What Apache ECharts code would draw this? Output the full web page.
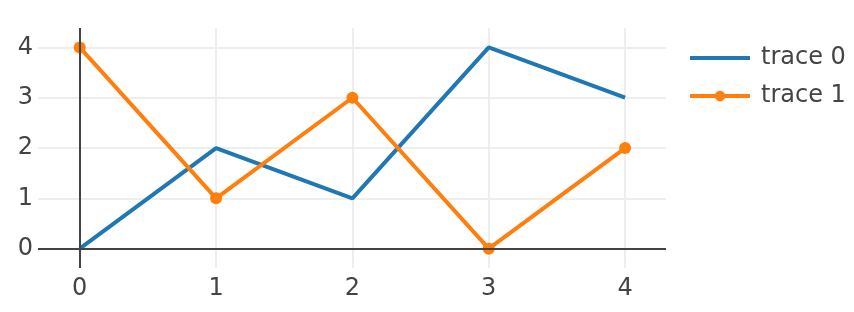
<!DOCTYPE html>
<html>
<head>
<meta charset="utf-8">
<script src="https://cdn.jsdelivr.net/npm/echarts@6/dist/echarts.min.js"></script>
<style>html,body{margin:0;padding:0;background:#fff}#c{width:854px;height:312px}</style>
</head>
<body>
<div id="c"></div>
<script>
const xValues = [0, 1, 2, 3, 4];
const trace0 = [0, 2, 1, 4, 3];
const trace1 = [4, 1, 3, 0, 2];
const xTicks = [0, 1, 2, 3, 4];
const yTicks = [0, 1, 2, 3, 4];
const seriesNames = ['trace 0', 'trace 1'];

const chart = echarts.init(document.getElementById('c'));
const font = 'DejaVu Sans';
const fs = 24;
chart.setOption({
  animation: false,
  grid: { left: 38, right: 188, top: 28, bottom: 44, containLabel: false },
  xAxis: {
    type: 'value', min: -0.306, max: 4.30,
    axisLine: { show: false },
    axisTick: { show: false, customValues: xTicks },
    axisLabel: { customValues: xTicks, color: '#444', fontFamily: font, fontSize: fs, margin: 9 },
    splitLine: { show: true, lineStyle: { color: '#eee', width: 2 } }
  },
  yAxis: {
    type: 'value', min: -0.384, max: 4.386,
    axisLine: { show: false },
    axisTick: { show: false, customValues: yTicks },
    axisLabel: { customValues: yTicks, color: '#444', fontFamily: font, fontSize: fs, margin: 5 },
    splitLine: { show: true, lineStyle: { color: '#eee', width: 2 } }
  },
  legend: {
    orient: 'vertical', left: 683, top: 41, itemWidth: 60, itemHeight: 13, itemGap: 14,
    lineStyle: { width: 4 },
    data: [
      { name: seriesNames[0], itemStyle: { color: 'rgba(0,0,0,0)', borderWidth: 0 } },
      { name: seriesNames[1] }
    ],
    textStyle: { color: '#444', fontFamily: font, fontSize: fs, padding: [0, 0, 0, 6] }
  },
  series: [
    {
      name: '__zero', type: 'line', data: [], z: 1, silent: true,
      markLine: {
        silent: true, symbol: 'none', label: { show: false }, animation: false,
        lineStyle: { color: '#444', width: 2, type: 'solid' },
        data: [{ xAxis: 0 }, { yAxis: 0 }]
      }
    },
    {
      name: seriesNames[0], type: 'line', z: 3,
      data: xValues.map((x, i) => [x, trace0[i]]),
      symbol: 'none', lineStyle: { color: '#1f77b4', width: 4 }, itemStyle: { color: '#1f77b4' }
    },
    {
      name: seriesNames[1], type: 'line', z: 4,
      data: xValues.map((x, i) => [x, trace1[i]]),
      symbol: 'circle', symbolSize: 12, showAllSymbol: true,
      lineStyle: { color: '#ff7f0e', width: 4 }, itemStyle: { color: '#ff7f0e' }
    }
  ]
});
</script>
</body>
</html>
